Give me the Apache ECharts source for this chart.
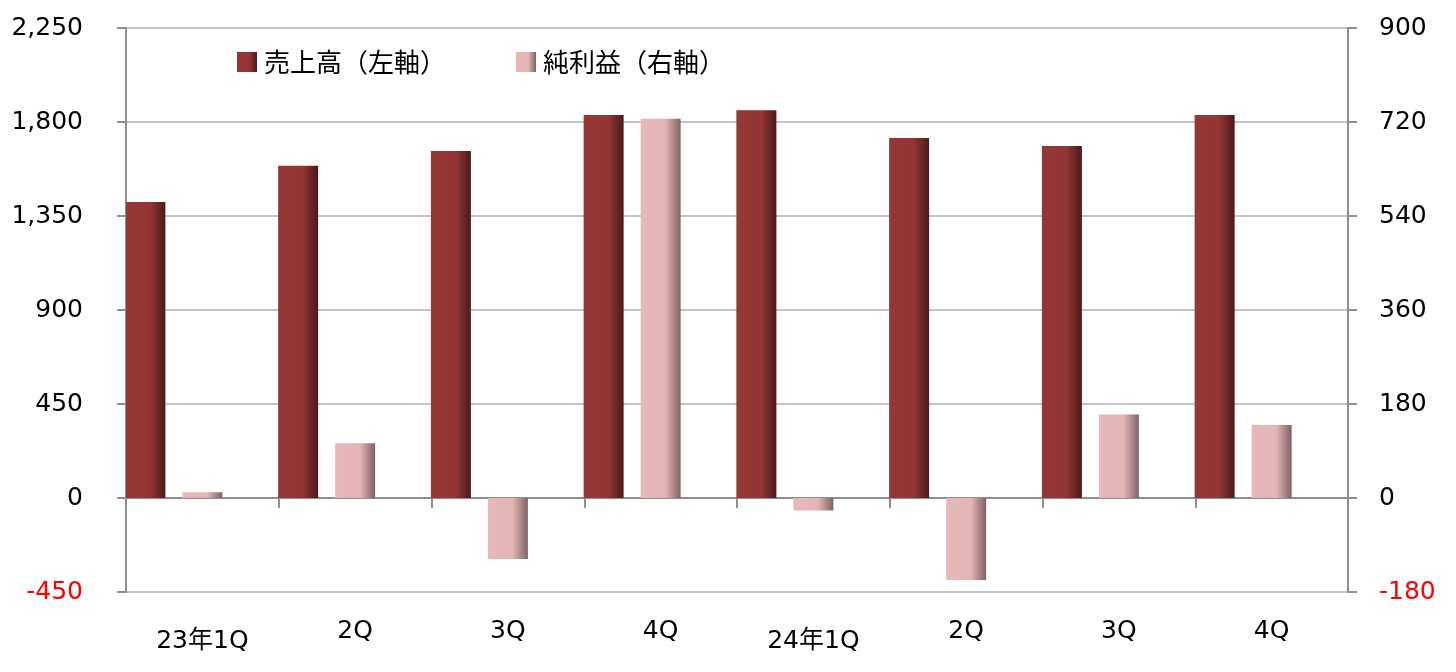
<!DOCTYPE html>
<html>
<head>
<meta charset="utf-8">
<script src="https://cdn.jsdelivr.net/npm/echarts@6/dist/echarts.min.js"></script>
<style>
html,body{margin:0;padding:0;background:#fff;}
#chart{width:1456px;height:672px;}
</style>
</head>
<body>
<div id="chart"></div>
<script>
const categories = ['23年1Q', '2Q', '3Q', '4Q', '24年1Q', '2Q', '3Q', '4Q'];
const salesName = '売上高（左軸）';
const profitName = '純利益（右軸）';
const sales = [1417, 1591, 1661, 1833, 1856, 1723, 1685, 1833];
const netProfit = [11, 105, -117, 726, -24, -157, 160, 140];
const leftTicks = { min: -450, max: 2250, interval: 450 };
const rightTicks = { min: -180, max: 900, interval: 180 };

const FONT = '"DejaVu Sans", "Noto Sans CJK JP", sans-serif';
const AXIS_COLOR = '#8e8e8e';
const GRID_COLOR = '#c4c4c4';

function numLabel(v) {
  const s = Number(v).toLocaleString('en-US');
  return v < 0 ? '{r|' + s + '}' : '{n|' + s + '}';
}
const numRich = {
  r: { color: '#ff0000', fontSize: 25, fontFamily: FONT },
  n: { color: '#000000', fontSize: 25, fontFamily: FONT }
};

const salesColor = new echarts.graphic.LinearGradient(0, 0, 1, 0, [
  { offset: 0, color: '#953735' },
  { offset: 0.62, color: '#933534' },
  { offset: 1, color: '#4c1a1a' }
]);
const profitColor = new echarts.graphic.LinearGradient(0, 0, 1, 0, [
  { offset: 0, color: '#e6b9b8' },
  { offset: 0.62, color: '#e3b5b4' },
  { offset: 1, color: '#7e6262' }
]);

const chart = echarts.init(document.getElementById('chart'), null, { renderer: 'canvas' });
chart.setOption({
  animation: false,
  backgroundColor: '#ffffff',
  textStyle: { fontFamily: FONT },
  grid: { left: 126, right: 108, top: 28, bottom: 80, containLabel: false, outerBoundsMode: 'none' },
  legend: {
    data: [salesName, profitName],
    left: 232, top: 44,
    icon: 'rect', itemWidth: 20, itemHeight: 20, itemGap: 70,
    textStyle: { fontSize: 26, color: '#000', fontFamily: '"Noto Sans CJK JP", sans-serif', padding: [0, 0, 0, 2] }
  },
  xAxis: {
    type: 'category',
    data: categories,
    axisLine: { onZero: true, lineStyle: { color: AXIS_COLOR, width: 2 } },
    axisTick: { show: true, length: 10, lineStyle: { color: AXIS_COLOR, width: 2 } },
    splitLine: { show: false },
    axisLabel: {
      margin: 27,
      formatter: v => v.indexOf('年') >= 0 ? '{y|' + v + '}' : '{q|' + v + '}',
      rich: {
        y: { fontSize: 25, color: '#000', fontFamily: FONT, padding: [10, 0, 0, 0] },
        q: { fontSize: 25, color: '#000', fontFamily: FONT }
      }
    }
  },
  yAxis: [
    {
      type: 'value', position: 'left',
      min: leftTicks.min, max: leftTicks.max, interval: leftTicks.interval,
      axisLine: { show: true, lineStyle: { color: AXIS_COLOR, width: 2 } },
      axisTick: { show: true, length: 9, lineStyle: { color: AXIS_COLOR, width: 2 } },
      splitLine: { show: true, lineStyle: { color: GRID_COLOR, width: 2 } },
      axisLabel: { margin: 43, formatter: numLabel, rich: numRich }
    },
    {
      type: 'value', position: 'right',
      min: rightTicks.min, max: rightTicks.max, interval: rightTicks.interval,
      axisLine: { show: true, lineStyle: { color: AXIS_COLOR, width: 2 } },
      axisTick: { show: true, length: 9, lineStyle: { color: AXIS_COLOR, width: 2 } },
      splitLine: { show: false },
      axisLabel: { margin: 31, formatter: numLabel, rich: numRich }
    }
  ],
  series: [
    {
      name: salesName, type: 'bar', yAxisIndex: 0, data: sales,
      barWidth: 40, barGap: '42.5%',
      itemStyle: { color: salesColor }
    },
    {
      name: profitName, type: 'bar', yAxisIndex: 1, data: netProfit,
      barWidth: 40, barGap: '42.5%',
      itemStyle: { color: profitColor }
    },
    {
      name: 'spacer', type: 'bar', yAxisIndex: 0,
      data: categories.map(() => null),
      barWidth: 40, barGap: '42.5%', silent: true
    }
  ]
});
</script>
</body>
</html>
